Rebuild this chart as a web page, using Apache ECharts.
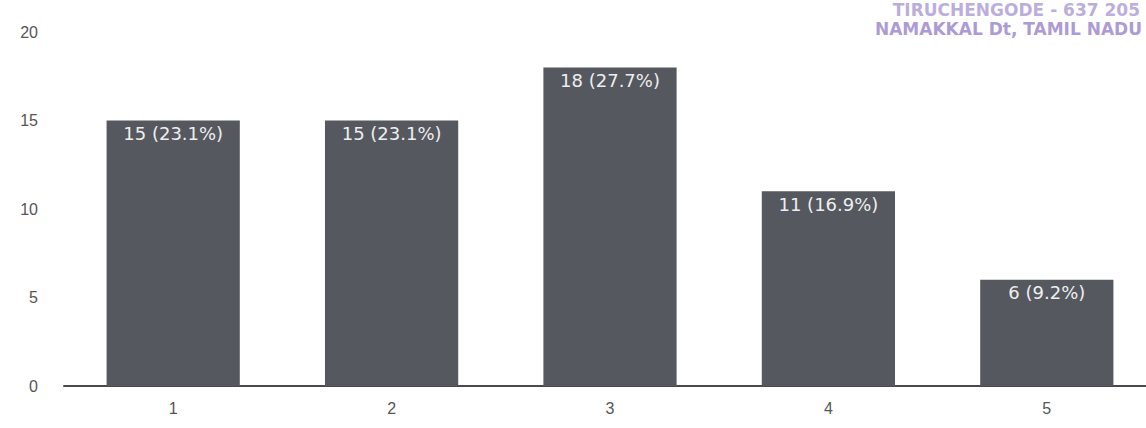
<!DOCTYPE html>
<html>
<head>
<meta charset="utf-8">
<script src="https://cdn.jsdelivr.net/npm/echarts@6/dist/echarts.min.js"></script>
<style>
  html, body { margin: 0; padding: 0; background: #fff; }
  #chart { width: 1146px; height: 428px; }
</style>
</head>
<body>
<div id="chart"></div>
<script>
// values
var categories = ['1', '2', '3', '4', '5'];
var counts = [15, 15, 18, 11, 6];
var percents = ['23.1%', '23.1%', '27.7%', '16.9%', '9.2%'];
var yTicks = [0, 5, 10, 15, 20];

var chart = echarts.init(document.getElementById('chart'), null, { renderer: 'svg' });

chart.setOption({
  backgroundColor: '#ffffff',
  animation: false,
  grid: { left: 64, width: 1092, top: 32, bottom: 42, outerBoundsMode: 'none' },
  xAxis: {
    type: 'category',
    data: categories,
    axisLine: { lineStyle: { color: '#4a4a4a', width: 2 } },
    axisTick: { show: false },
    axisLabel: { color: '#555', fontSize: 16, fontFamily: 'Liberation Sans', margin: 14 }
  },
  yAxis: {
    type: 'value',
    min: yTicks[0],
    max: yTicks[yTicks.length - 1],
    interval: 5,
    axisLine: { show: false },
    axisTick: { show: false },
    splitLine: { show: false },
    axisLabel: { color: '#555', fontSize: 16, fontFamily: 'Liberation Sans', margin: 26 }
  },
  series: [{
    type: 'bar',
    data: counts,
    barWidth: '61%',
    itemStyle: { color: '#55585f' },
    label: {
      show: true,
      position: 'insideTop',
      distance: 4,
      color: '#eeeeee',
      fontSize: 18,
      fontFamily: 'DejaVu Sans',
      formatter: function (p) { return p.value + ' (' + percents[p.dataIndex] + ')'; }
    }
  }],
  graphic: [
    { type: 'text', right: 6, top: 1,
      style: { text: 'TIRUCHENGODE - 637 205', fill: '#bcaedc', font: 'bold 17px "DejaVu Sans"' } },
    { type: 'text', right: 4, top: 20,
      style: { text: 'NAMAKKAL Dt, TAMIL NADU', fill: '#ad9bd6', font: 'bold 17px "DejaVu Sans"' } }
  ]
});
</script>
</body>
</html>
